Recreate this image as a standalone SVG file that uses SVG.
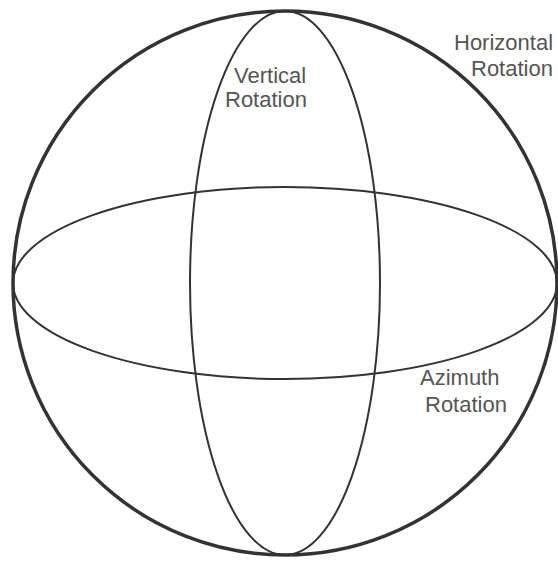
<svg xmlns="http://www.w3.org/2000/svg" width="558" height="563" viewBox="0 0 558 563">
<style>
.l{fill:none;stroke:#333;stroke-width:2}
.o{fill:none;stroke:#333;stroke-width:3.5}
text{font-family:"Liberation Sans",Arial,sans-serif;font-size:22px;fill:#555}
</style>
<rect width="558" height="563" fill="#fff"/>
<g id="connectors">
<ellipse id="vertical" class="l" cx="285" cy="283" rx="95" ry="272"/>
<ellipse id="azimuth" class="l" cx="285" cy="283" rx="272" ry="96"/>
<circle id="sphere" class="o" cx="285" cy="283" r="272"/>
</g>
<g id="label-vertical"><text x="234" y="83">Vertical</text><text x="225" y="107">Rotation</text></g>
<g id="label-horizontal"><text x="454" y="50">Horizontal</text><text x="471" y="76">Rotation</text></g>
<g id="label-azimuth"><text x="420" y="385">Azimuth</text><text x="425" y="412">Rotation</text></g>
</svg>
